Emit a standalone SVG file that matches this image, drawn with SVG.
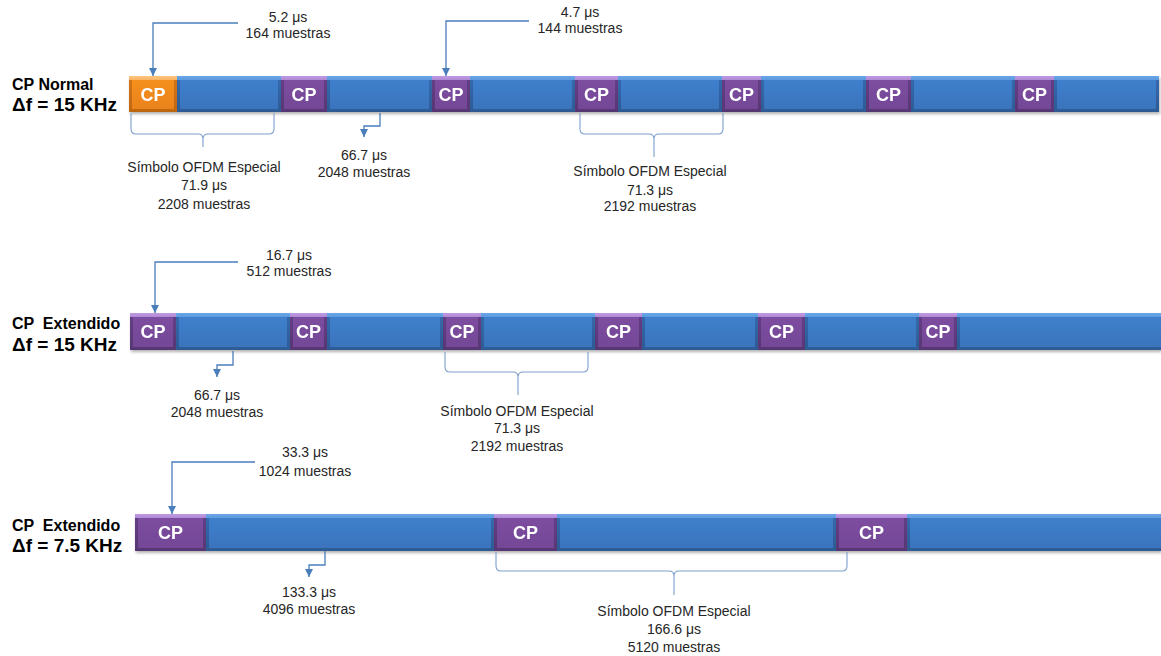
<svg xmlns="http://www.w3.org/2000/svg" width="1161" height="656" viewBox="0 0 1161 656">
<style>
.lbl{font-family:"Liberation Sans",Arial,sans-serif;font-size:14px;fill:#262626;text-anchor:middle}
.row{font-family:"Liberation Sans",Arial,sans-serif;font-weight:bold;fill:#000}
.cp{font-family:"Liberation Sans",Arial,sans-serif;font-weight:bold;font-size:18px;fill:#fff;text-anchor:middle}
.bo{fill:url(#bOut)}.bi{fill:url(#bIn)}
.po{fill:url(#pOut)}.pi{fill:url(#pIn)}
.oo{fill:url(#oOut)}.oi{fill:url(#oIn)}
.arr{fill:none;stroke:#4a7ebb;stroke-width:1.3;marker-end:url(#ah)}
.brace{fill:none;stroke:#7d9fcc;stroke-width:1.1}
</style>
<defs>
<linearGradient id="bOut" x1="0" y1="0" x2="0" y2="1"><stop offset="0" stop-color="#6aa6e6"/><stop offset="0.1" stop-color="#5e9be0"/><stop offset="0.1" stop-color="#3669ac"/><stop offset="1" stop-color="#2d5a94"/></linearGradient>
<linearGradient id="bIn" x1="0" y1="0" x2="0" y2="1"><stop offset="0" stop-color="#3f7fcc"/><stop offset="1" stop-color="#3a74bd"/></linearGradient>
<linearGradient id="pOut" x1="0" y1="0" x2="0" y2="1"><stop offset="0" stop-color="#c09be2"/><stop offset="0.1" stop-color="#b08ad6"/><stop offset="0.1" stop-color="#643f86"/><stop offset="1" stop-color="#573673"/></linearGradient>
<linearGradient id="pIn" x1="0" y1="0" x2="0" y2="1"><stop offset="0" stop-color="#7d4ea0"/><stop offset="1" stop-color="#744796"/></linearGradient>
<linearGradient id="oOut" x1="0" y1="0" x2="0" y2="1"><stop offset="0" stop-color="#fcc57f"/><stop offset="0.1" stop-color="#fab466"/><stop offset="0.1" stop-color="#d27418"/><stop offset="1" stop-color="#bd6610"/></linearGradient>
<linearGradient id="oIn" x1="0" y1="0" x2="0" y2="1"><stop offset="0" stop-color="#f5901f"/><stop offset="1" stop-color="#ea821a"/></linearGradient>
<filter id="sh" x="-5%" y="-30%" width="110%" height="160%"><feDropShadow dx="1" dy="2" stdDeviation="1.5" flood-color="#000" flood-opacity="0.3"/></filter>
<marker id="ah" viewBox="0 0 10 10" refX="10" refY="5" markerWidth="8" markerHeight="8" markerUnits="userSpaceOnUse" orient="auto"><path d="M0,0 L10,5 L0,10 z" fill="#4a7ebb"/></marker>
</defs>

<rect width="1161" height="656" fill="#fff"/>

<!-- Row labels -->
<g id="label-row1">
<text class="row" x="12" y="90" font-size="16">CP Normal</text>
<text class="row" x="12" y="111" font-size="19">Δf = 15 KHz</text>
</g>
<g id="label-row2">
<text class="row" x="12" y="329" font-size="16" xml:space="preserve">CP  Extendido</text>
<text class="row" x="12" y="351" font-size="19">Δf = 15 KHz</text>
</g>
<g id="label-row3">
<text class="row" x="12" y="531" font-size="16" xml:space="preserve">CP  Extendido</text>
<text class="row" x="12" y="552" font-size="19">Δf = 7.5 KHz</text>
</g>

<!-- Row 1 -->
<g id="row1" filter="url(#sh)">
<g id="r1-sym1"><rect class="bo" x="177" y="76" width="104" height="36"/><rect class="bi" x="180" y="80" width="98" height="29"/></g>
<g id="r1-sym2"><rect class="bo" x="327" y="76" width="105" height="36"/><rect class="bi" x="330" y="80" width="99" height="29"/></g>
<g id="r1-sym3"><rect class="bo" x="470" y="76" width="105" height="36"/><rect class="bi" x="473" y="80" width="99" height="29"/></g>
<g id="r1-sym4"><rect class="bo" x="618" y="76" width="104" height="36"/><rect class="bi" x="621" y="80" width="98" height="29"/></g>
<g id="r1-sym5"><rect class="bo" x="761" y="76" width="105" height="36"/><rect class="bi" x="764" y="80" width="99" height="29"/></g>
<g id="r1-sym6"><rect class="bo" x="911" y="76" width="104" height="36"/><rect class="bi" x="914" y="80" width="98" height="29"/></g>
<g id="r1-sym7"><rect class="bo" x="1054" y="76" width="105" height="36"/><rect class="bi" x="1057" y="80" width="99" height="29"/></g>
<g id="r1-cp1"><rect class="oo" x="129" y="76" width="48" height="36"/><rect class="oi" x="132" y="80" width="42" height="29"/><text class="cp" x="153" y="101">CP</text></g>
<g id="r1-cp2"><rect class="po" x="281" y="76" width="46" height="36"/><rect class="pi" x="284" y="80" width="40" height="29"/><text class="cp" x="304" y="101">CP</text></g>
<g id="r1-cp3"><rect class="po" x="432" y="76" width="38" height="36"/><rect class="pi" x="435" y="80" width="32" height="29"/><text class="cp" x="451" y="101">CP</text></g>
<g id="r1-cp4"><rect class="po" x="575" y="76" width="43" height="36"/><rect class="pi" x="578" y="80" width="37" height="29"/><text class="cp" x="596.5" y="101">CP</text></g>
<g id="r1-cp5"><rect class="po" x="722" y="76" width="39" height="36"/><rect class="pi" x="725" y="80" width="33" height="29"/><text class="cp" x="741.5" y="101">CP</text></g>
<g id="r1-cp6"><rect class="po" x="866" y="76" width="45" height="36"/><rect class="pi" x="869" y="80" width="39" height="29"/><text class="cp" x="888.5" y="101">CP</text></g>
<g id="r1-cp7"><rect class="po" x="1015" y="76" width="39" height="36"/><rect class="pi" x="1018" y="80" width="33" height="29"/><text class="cp" x="1034.5" y="101">CP</text></g>
</g>

<!-- Row 2 -->
<g id="row2" filter="url(#sh)">
<g id="r2-sym1"><rect class="bo" x="176" y="313" width="114" height="37"/><rect class="bi" x="179" y="317" width="108" height="30"/></g>
<g id="r2-sym2"><rect class="bo" x="327" y="313" width="116" height="37"/><rect class="bi" x="330" y="317" width="110" height="30"/></g>
<g id="r2-sym3"><rect class="bo" x="481" y="313" width="114" height="37"/><rect class="bi" x="484" y="317" width="108" height="30"/></g>
<g id="r2-sym4"><rect class="bo" x="642" y="313" width="116" height="37"/><rect class="bi" x="645" y="317" width="110" height="30"/></g>
<g id="r2-sym5"><rect class="bo" x="805" y="313" width="114" height="37"/><rect class="bi" x="808" y="317" width="108" height="30"/></g>
<g id="r2-sym6"><rect class="bo" x="957" y="313" width="204" height="37"/><rect class="bi" x="960" y="317" width="201" height="30"/></g>
<g id="r2-cp1"><rect class="po" x="130" y="313" width="46" height="37"/><rect class="pi" x="133" y="317" width="40" height="30"/><text class="cp" x="153" y="338">CP</text></g>
<g id="r2-cp2"><rect class="po" x="290" y="313" width="37" height="37"/><rect class="pi" x="293" y="317" width="31" height="30"/><text class="cp" x="308.5" y="338">CP</text></g>
<g id="r2-cp3"><rect class="po" x="443" y="313" width="38" height="37"/><rect class="pi" x="446" y="317" width="32" height="30"/><text class="cp" x="462" y="338">CP</text></g>
<g id="r2-cp4"><rect class="po" x="595" y="313" width="47" height="37"/><rect class="pi" x="598" y="317" width="41" height="30"/><text class="cp" x="618.5" y="338">CP</text></g>
<g id="r2-cp5"><rect class="po" x="758" y="313" width="47" height="37"/><rect class="pi" x="761" y="317" width="41" height="30"/><text class="cp" x="781.5" y="338">CP</text></g>
<g id="r2-cp6"><rect class="po" x="919" y="313" width="38" height="37"/><rect class="pi" x="922" y="317" width="32" height="30"/><text class="cp" x="938" y="338">CP</text></g>
</g>

<!-- Row 3 -->
<g id="row3" filter="url(#sh)">
<g id="r3-sym1"><rect class="bo" x="206" y="514" width="288" height="37"/><rect class="bi" x="209" y="518" width="282" height="30"/></g>
<g id="r3-sym2"><rect class="bo" x="557" y="514" width="279" height="37"/><rect class="bi" x="560" y="518" width="273" height="30"/></g>
<g id="r3-sym3"><rect class="bo" x="907" y="514" width="254" height="37"/><rect class="bi" x="910" y="518" width="251" height="30"/></g>
<g id="r3-cp1"><rect class="po" x="135" y="514" width="71" height="37"/><rect class="pi" x="138" y="518" width="65" height="30"/><text class="cp" x="170.5" y="539">CP</text></g>
<g id="r3-cp2"><rect class="po" x="494" y="514" width="63" height="37"/><rect class="pi" x="497" y="518" width="57" height="30"/><text class="cp" x="525.5" y="539">CP</text></g>
<g id="r3-cp3"><rect class="po" x="836" y="514" width="71" height="37"/><rect class="pi" x="839" y="518" width="65" height="30"/><text class="cp" x="871.5" y="539">CP</text></g>
</g>

<!-- Connectors -->
<g id="connectors">
<path class="arr" d="M238,23 H153 V76"/>
<path class="arr" d="M529,21 H446 V76"/>
<path class="arr" d="M380,113 V126 H364 V137"/>
<path class="arr" d="M238,262 H155 V313"/>
<path class="arr" d="M233,351 V365 H217 V377"/>
<path class="arr" d="M255,462 H172 V514"/>
<path class="arr" d="M325,551 V565 H309 V577"/>
<path class="brace" d="M131,113 V129 Q131,134 136,134 H198 Q203,134 203,139 V147 M203,139 Q203,134 208,134 H269 Q274,134 274,129 V113"/>
<path class="brace" d="M580,113 V129 Q580,134 585,134 H649 Q654,134 654,139 V157 M654,139 Q654,134 659,134 H718 Q723,134 723,129 V113"/>
<path class="brace" d="M445,352 V367 Q445,372 450,372 H513 Q518,372 518,377 V395 M518,377 Q518,372 523,372 H583 Q588,372 588,367 V352"/>
<path class="brace" d="M496,552 V566 Q496,571 501,571 H669 Q674,571 674,576 V595 M674,576 Q674,571 679,571 H842 Q847,571 847,566 V552"/>
</g>

<!-- Labels -->
<g id="labels">
<text class="lbl" x="288" y="22">5.2 μs</text>
<text class="lbl" x="288" y="38">164 muestras</text>
<text class="lbl" x="580" y="17">4.7 μs</text>
<text class="lbl" x="580" y="33">144 muestras</text>
<text class="lbl" x="364" y="160">66.7 μs</text>
<text class="lbl" x="364" y="177">2048 muestras</text>
<text class="lbl" x="204" y="172">Símbolo OFDM Especial</text>
<text class="lbl" x="204" y="190">71.9 μs</text>
<text class="lbl" x="204" y="209">2208 muestras</text>
<text class="lbl" x="650" y="176">Símbolo OFDM Especial</text>
<text class="lbl" x="650" y="195">71.3 μs</text>
<text class="lbl" x="650" y="211">2192 muestras</text>
<text class="lbl" x="289" y="260">16.7 μs</text>
<text class="lbl" x="289" y="276">512 muestras</text>
<text class="lbl" x="217" y="400">66.7 μs</text>
<text class="lbl" x="217" y="417">2048 muestras</text>
<text class="lbl" x="517" y="416">Símbolo OFDM Especial</text>
<text class="lbl" x="517" y="433">71.3 μs</text>
<text class="lbl" x="517" y="451">2192 muestras</text>
<text class="lbl" x="305" y="457">33.3 μs</text>
<text class="lbl" x="305" y="476">1024 muestras</text>
<text class="lbl" x="309" y="597">133.3 μs</text>
<text class="lbl" x="309" y="614">4096 muestras</text>
<text class="lbl" x="674" y="616">Símbolo OFDM Especial</text>
<text class="lbl" x="674" y="634">166.6 μs</text>
<text class="lbl" x="674" y="652">5120 muestras</text>
</g>
</svg>
